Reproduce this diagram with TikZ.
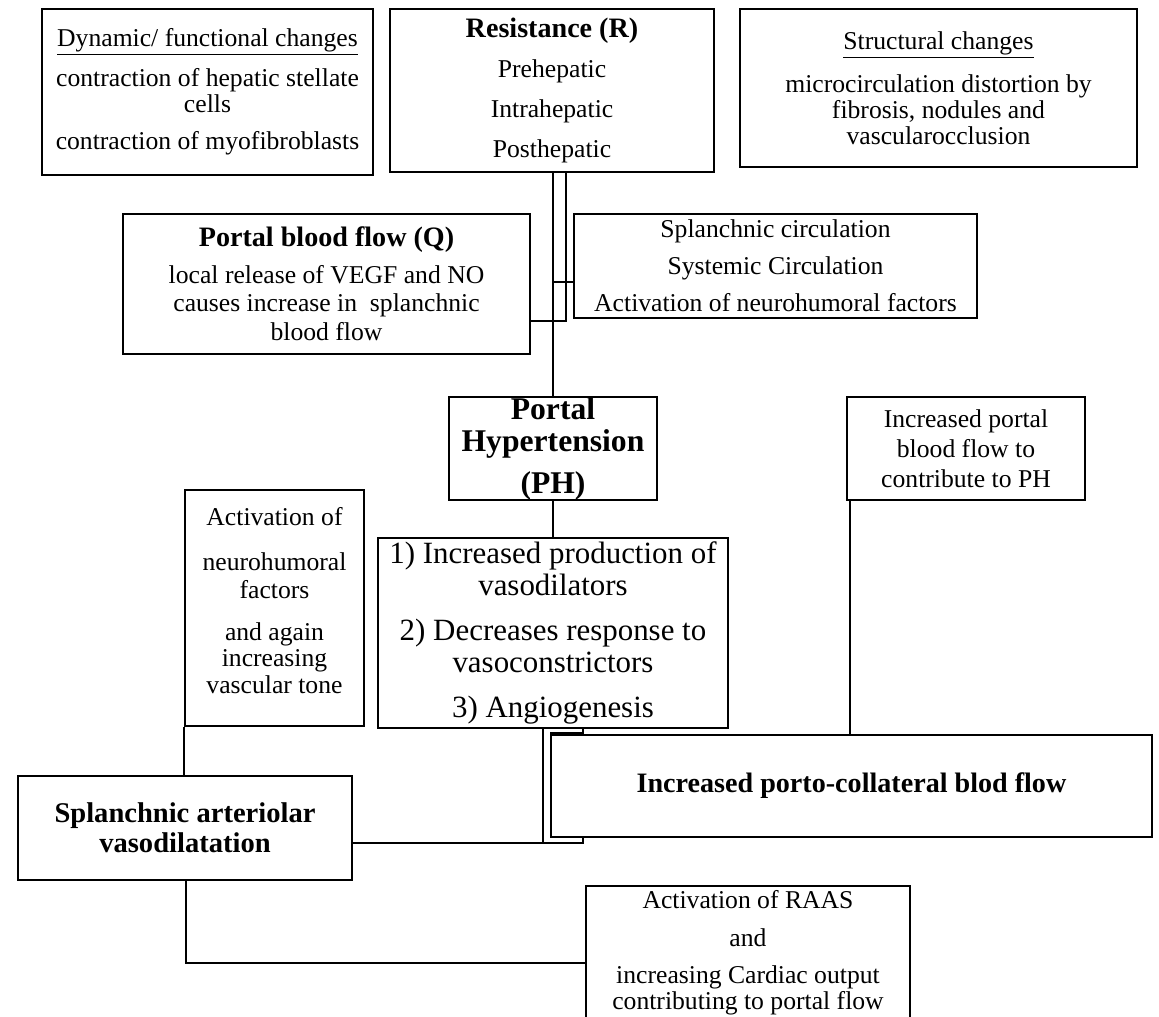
\documentclass[tikz,border=0pt]{standalone}
\usepackage{fontspec}
\setmainfont{Liberation Serif}
\usepackage{tikz}
\usetikzlibrary{positioning}
\tikzstyle{box} = [rectangle, draw=black, line width=1.1pt, align=center, inner sep=0pt, font=\fontsize{14.6}{14.8}\selectfont]
\tikzstyle{bigbox} = [box, font=\fontsize{17.6}{18.2}\selectfont]
\tikzstyle{plain} = [align=center, inner sep=0pt, font=\fontsize{14.6}{14.8}\selectfont]
\tikzstyle{line} = [line width=1.1pt]
\newcommand{\boxtitle}[1]{\textbf{\fontsize{16}{14.8}\selectfont #1}}

\begin{document}
\begin{tikzpicture}[x=0.02cm, y=-0.02cm]
		\useasboundingbox (0,0) rectangle (1159,1017);
		
		% Nodes
		\node (dyn) [box, minimum width=6.62cm, minimum height=3.32cm] at (207.5,92) {\underline{Dynamic/ functional changes}\\[6.3pt] contraction of hepatic stellate\\ cells\\[6.3pt] contraction of myofibroblasts};
		\node (res) [box, minimum width=6.48cm, minimum height=3.26cm] at (552,90.5) {\boxtitle{Resistance (R)}\\[8pt] Prehepatic\\[8pt] Intrahepatic\\[8pt] Posthepatic};
		\node (struct) [box, minimum width=7.94cm, minimum height=3.16cm] at (938.5,88) {\underline{Structural changes}\\[8pt] microcirculation distortion by\\ fibrosis, nodules and\\ vascularocclusion};
		\node (pbf) [box, minimum width=8.14cm, minimum height=2.8cm] at (326.5,284) {\boxtitle{Portal blood flow (Q)}\\[6pt] local release of VEGF and NO\\[1.2pt] causes increase in\ \ splanchnic\\[1.7pt] blood flow};
		\node (circ) [box, minimum width=8.06cm, minimum height=2.08cm] at (775.5,266) {Splanchnic circulation\\[6.3pt] Systemic Circulation\\[6.3pt] Activation of neurohumoral factors};
		\node (ph) [bigbox, minimum width=4.16cm, minimum height=2.06cm, font=\bfseries\fontsize{18}{18.2}\selectfont] at (553,448.5) {Portal\\ Hypertension\\[5.7pt] (PH)};
		\node (incpf) [box, minimum width=4.76cm, minimum height=2.06cm] at (966,448.5) {Increased portal\\[2.3pt] blood flow to\\[2.3pt] contribute to PH};
		\node (neuro) [box, minimum width=3.58cm, minimum height=4.72cm] at (274.5,608) {};
		\node (neurotext) [plain] at (274.5,601) {Activation of\\[10.8pt] neurohumoral\\[1.2pt] factors\\[9.1pt] and again\\ increasing\\[0.6pt] vascular tone};
		\node (vaso) [bigbox, minimum width=7cm, minimum height=3.8cm] at (553,633) {1) Increased production of\\ vasodilators\\[7.4pt] 2) Decreases response to\\ vasoconstrictors\\[7.4pt] 3) Angiogenesis};
		\node (porto) [box, minimum width=12.02cm, minimum height=2.04cm, font=\bfseries\fontsize{16}{17}\selectfont] at (851.5,786) {Increased porto-collateral blod flow};
		\node (sav) [box, minimum width=6.68cm, minimum height=2.08cm, font=\bfseries\fontsize{16.25}{17}\selectfont] at (185,828) {Splanchnic arteriolar\\ vasodilatation};
		\node (raas) [box, minimum width=6.48cm, minimum height=2.88cm] at (748,958) {};
		\node (raastext) [plain] at (748,953) {Activation of RAAS\\[6.8pt] and\\[6.3pt] increasing Cardiac output\\ contributing to portal flow};
		
		% Lines
		\coordinate (j1) at (566,321);
		\coordinate (j2) at (553,282);
		\coordinate (j3) at (186,963);
		\coordinate (j4) at (543,843);
		\coordinate (j5) at (583,843);
		\coordinate (j6) at (583,733);
		\coordinate (j7) at (850,0);
		\draw [line] (res.south -| j2) -- (j2 |- ph.north);
		\draw [line] (pbf.east |- j1) -- (j1) -- (j1 |- res.south);
		\draw [line] (j2) -- (j2 -| circ.west);
		\draw [line] (ph.south) -- (ph.south |- vaso.north);
		\draw [line] (neuro.south west) -- (neuro.south west |- sav.north);
		\draw [line] (j3 |- sav.south) -- (j3) -- (j3 -| raas.west);
		\draw [line] (j4 |- vaso.south) -- (j4);
		\draw [line] (sav.east |- j4) -- (j5) -- (j5 |- porto.south);
		\draw [line] (j6 |- vaso.south) -- (j6) -- (j6 -| porto.west);
		\draw [line] (j7 |- incpf.south) -- (j7 |- porto.north);
		
	\end{tikzpicture}
\end{document}
